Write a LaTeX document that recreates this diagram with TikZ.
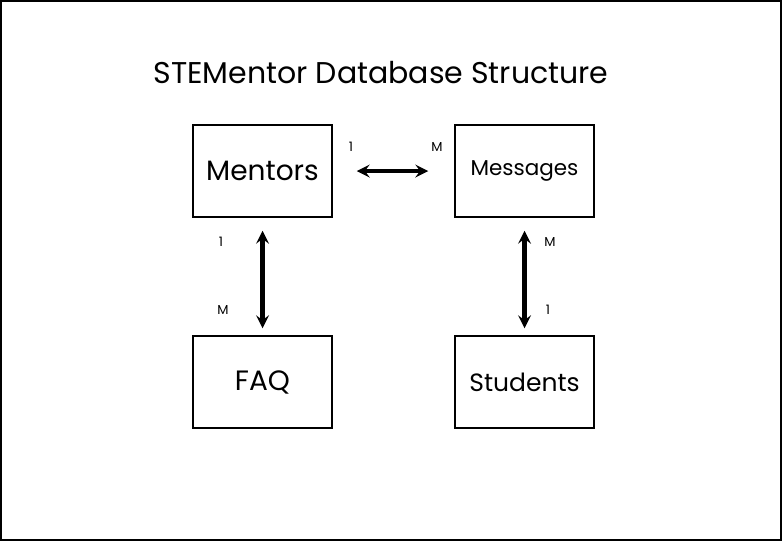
\documentclass[tikz,border=0pt]{standalone}
\usepackage{fontspec}
\setmainfont{Poppins}
\usetikzlibrary{positioning, arrows}
\tikzset{
    table/.style={draw, line width=1.5pt, minimum width=139pt, minimum height=92pt, inner sep=0pt}, % one box per table
    relation/.style={line width=4.5pt, <->, >=stealth}, % relation arrows
    card/.style={inner sep=0pt}, % cardinality labels
}
\begin{document}
\begin{tikzpicture}[x=1pt, y=-1pt, node distance=211pt and 262pt, on grid]
            % Rahmen
            \draw[line width=2pt] (1,1) rectangle (781,540);
            \useasboundingbox (0,0) rectangle (782,541);

            % Titel
            \node (title) at (381,73) {\fontsize{30}{30}\selectfont STEMentor Database Structure};

            % Tabellen
            \node[table] (mentors) at (262.5,171) {\fontsize{28}{28}\selectfont Mentors};
            \node[table] (messages) [right=of mentors] {\fontsize{21.5}{21.5}\selectfont Messages};
            \node[table] (faq) [below=of mentors] {\fontsize{28}{28}\selectfont FAQ};
            \node[table] (students) [below=of messages] {\fontsize{25}{25}\selectfont Students};

            % Beziehungen
            \draw[relation, shorten <=24pt, shorten >=26pt] (mentors) -- (messages);
            \draw[relation, shorten <=13pt, shorten >=7pt] (mentors) -- (faq);
            \draw[relation, shorten <=13pt, shorten >=7pt] (messages) -- (students);

            % Kardinalitaeten
            \node[card] (c1) at (351,147) {\fontsize{13}{13}\selectfont 1};
            \node[card] (c2) at (437,147) {\fontsize{13}{13}\selectfont M};
            \node[card] (c3) at (221,242) {\fontsize{13}{13}\selectfont 1};
            \node[card] (c4) at (223,310) {\fontsize{13}{13}\selectfont M};
            \node[card] (c5) at (550,242) {\fontsize{13}{13}\selectfont M};
            \node[card] (c6) at (548,310) {\fontsize{13}{13}\selectfont 1};
        \end{tikzpicture}
\end{document}
